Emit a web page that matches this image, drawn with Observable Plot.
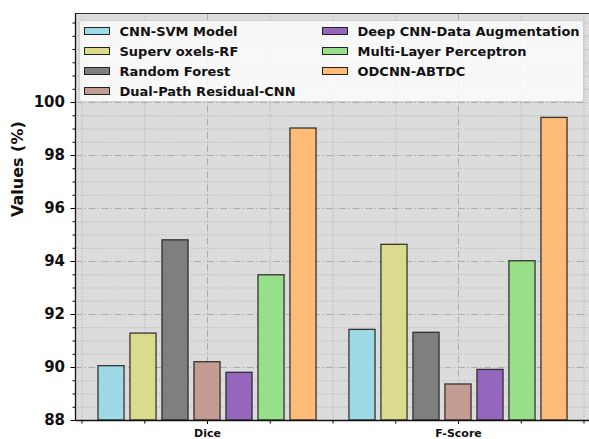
<!DOCTYPE html>
<html>
<head>
<meta charset="utf-8">
<script src="https://cdn.jsdelivr.net/npm/d3@7"></script>
<script src="https://cdn.jsdelivr.net/npm/@observablehq/plot@0.6"></script>
<style>
  html, body { margin: 0; padding: 0; background: #fff; }
  #chart { position: relative; width: 589px; height: 439px; font-family: "DejaVu Sans", sans-serif; }
  #chart svg { display: block; }
  .legend { position: absolute; box-sizing: border-box; background: rgba(255,255,255,0.8); border: 1px solid #cfcfcf; border-radius: 3px; }
  .legend .item { position: absolute; display: flex; align-items: center; white-space: nowrap; }
  .legend .patch { width: 26px; height: 8px; border: 1.3px solid #222; box-sizing: border-box; }
  .legend .name { margin-left: 10px; font-weight: bold; font-size: 13px; color: #111; }
</style>
</head>
<body>
<div id="chart"></div>
<script>
// Metric groups along the x axis
const categories = ["Dice", "F-Score"];
// Compared segmentation models
const models = [
  "CNN-SVM Model",
  "Superv oxels-RF",
  "Random Forest",
  "Dual-Path Residual-CNN",
  "Deep CNN-Data Augmentation",
  "Multi-Layer Perceptron",
  "ODCNN-ABTDC"
];
// Scores (%) per model
const diceValues = [90.05, 91.28, 94.80, 90.20, 89.80, 93.48, 99.02];
const fScoreValues = [91.42, 94.63, 91.31, 89.36, 89.91, 94.01, 99.42];
const modelColors = ["#9edae5", "#dbdb8d", "#7f7f7f", "#c49c94", "#9467bd", "#98df8a", "#ffbb78"];
const yTicks = [88, 90, 92, 94, 96, 98, 100];

// Layout of the grouped bars in x-data units (group centres at 0 and 1)
const pitch = 0.1275, barWidth = 0.104;
const xDomain = [-0.526, 1.522];
const yDomain = [88, 103.36];

const series = [diceValues, fScoreValues];
const rows = [];
categories.forEach((cat, gi) => {
  models.forEach((m, si) => {
    const c = gi + (si - (models.length - 1) / 2) * pitch;
    rows.push({category: cat, model: m, x1: c - barWidth / 2, x2: c + barWidth / 2, value: series[gi][si]});
  });
});

const minorY = d3.range(88.5, 103.36, 0.5).filter(v => Math.abs(v % 2) > 1e-9);
const minorYAll = d3.range(88.5, 103.36, 0.5).filter(v => !yTicks.includes(v));
const minorX = [-0.5, -0.25, 0.25, 0.5, 0.75, 1.25, 1.5];
const dashDot = "7,2.5,1.2,2.5";

const chart = Plot.plot({
  width: 589,
  height: 439,
  marginLeft: 75,
  marginTop: 13,
  marginRight: 0,
  marginBottom: 19,
  x: {domain: xDomain, axis: null},
  y: {domain: yDomain, axis: null},
  color: {domain: models, range: modelColors},
  style: {fontFamily: "DejaVu Sans, sans-serif", background: "#fff", overflow: "visible"},
  marks: [
    Plot.frame({fill: "#dcdcdc", stroke: null}),
    // grid
    Plot.ruleY(minorYAll, {stroke: "#a9a9a9", strokeWidth: 0.9, strokeDasharray: "1,1.8"}),
    Plot.ruleY(yTicks.filter(v => v > 88), {stroke: "#ababab", strokeWidth: 1, strokeDasharray: dashDot}),
    Plot.ruleX(minorX, {stroke: "#a9a9a9", strokeWidth: 0.9, strokeDasharray: "1,1.8"}),
    Plot.ruleX([0, 1], {stroke: "#ababab", strokeWidth: 1, strokeDasharray: dashDot}),
    // bars
    Plot.rect(rows, {x1: "x1", x2: "x2", y1: 88, y2: "value", fill: "model", stroke: "#222", strokeWidth: 1.3, strokeOpacity: 0.9}),
    // axes
    Plot.axisY({ticks: yTicks, tickSize: 4.5, tickPadding: 6, fontSize: 15, fontWeight: "bold", fill: "#111", label: null}),
    Plot.axisY({ticks: minorYAll, tickSize: 2.5, tickFormat: () => "", label: null}),
    Plot.axisX({ticks: [0, 1], tickSize: 4, tickPadding: 5, fontSize: 11, fontWeight: "bold", fill: "#111",
      tickFormat: i => categories[i], label: null}),
    Plot.axisX({ticks: minorX, tickSize: 3.5, tickFormat: () => "", label: null}),
    // spines
    Plot.ruleY([yDomain[0]], {stroke: "#111", strokeWidth: 1.3}),
    Plot.ruleY([yDomain[1]], {stroke: "#333", strokeWidth: 1.2}),
    Plot.ruleX([xDomain[0]], {stroke: "#111", strokeWidth: 1.3}),
    // y title
    Plot.text(["Values (%)"], {frameAnchor: "left", dx: -58, rotate: -90, fontSize: 16, fontWeight: "bold", fill: "#111"})
  ]
});

const root = document.getElementById("chart");
root.appendChild(chart);

// Legend inside the plot area, two columns filled top to bottom
const legend = document.createElement("div");
legend.className = "legend";
Object.assign(legend.style, {left: "79px", top: "20px", width: "505px", height: "82px"});
models.forEach((m, i) => {
  const col = i < 4 ? 0 : 1;
  const row = i % 4;
  const item = document.createElement("div");
  item.className = "item";
  item.style.left = (col === 0 ? 3.5 : 241.5) + "px";
  item.style.top = (10 + row * 20 - 8) + "px";
  item.style.height = "16px";
  const patch = document.createElement("div");
  patch.className = "patch";
  patch.style.background = modelColors[i];
  const name = document.createElement("span");
  name.className = "name";
  name.textContent = m;
  item.appendChild(patch);
  item.appendChild(name);
  legend.appendChild(item);
});
root.appendChild(legend);
</script>
</body>
</html>
